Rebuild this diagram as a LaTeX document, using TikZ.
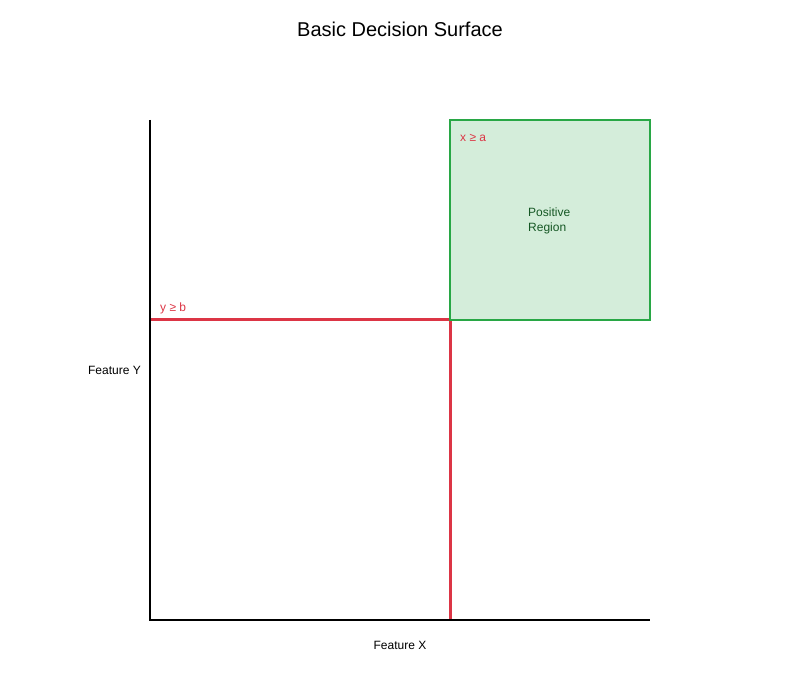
\documentclass[tikz,border=0pt]{standalone}
\usepackage{fontspec}
\setmainfont{Liberation Sans}
\usepackage{tikz}
\usetikzlibrary{arrows}
\definecolor{cutred}{HTML}{DC3545}
\definecolor{regionfill}{HTML}{D4EDDA}
\definecolor{regionline}{HTML}{28A745}
\definecolor{regiontext}{HTML}{155724}

\begin{document}
\begin{tikzpicture}[x=1pt,y=-1pt,
  axisline/.style={line width=2pt,color=black},
  threshold/.style={line width=3pt,draw=cutred},
  lbl/.style={inner sep=0pt,font=\fontsize{12}{14}\selectfont}]
\useasboundingbox (0,0) rectangle (800,700);
\coordinate (o) at (150,620);
\coordinate (ytop) at (150,120);
\coordinate (xend) at (650,620);
\coordinate (b) at (150,320);
\coordinate (bend) at (650,320);
\coordinate (a) at (450,620);
\coordinate (atop) at (450,120);
\coordinate (corner) at (650,120);
% thresholds
\draw [threshold] (b) -- (bend);
\draw [threshold] (a) -- (atop);
% positive region
\draw [line width=2pt,color=regionline,fill=regionfill] (atop |- b) rectangle (corner);
% axes
\draw [axisline] (ytop) -- (o) -- (xend);
\node[lbl,anchor=base west,color=cutred] (xa) at (460,142) {x ≥ a};
\node[lbl,anchor=base west,color=cutred] (yb) at (160,312) {y ≥ b};
\node[lbl,anchor=base west,color=regiontext] (pos) at (528,217) {Positive};
\node[lbl,anchor=base west,color=regiontext] (reg) at (528,232) {Region};
\node[lbl,anchor=base east] (fy) at (141,374) {Feature Y};
\node[lbl,anchor=base] (fx) at (400,649) {Feature X};
\node[inner sep=0pt,anchor=base,font=\fontsize{20}{24}\selectfont] (title) at (400,37) {Basic Decision Surface};
\end{tikzpicture}
\end{document}
